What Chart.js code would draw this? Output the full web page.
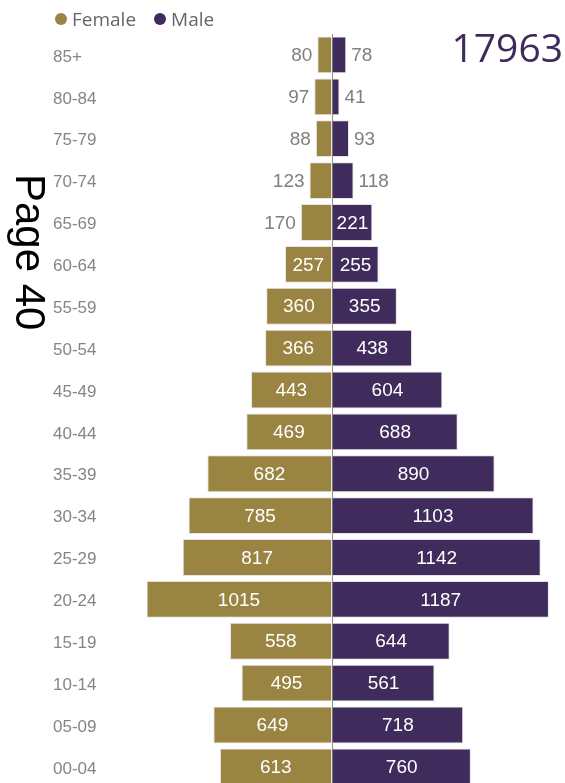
<!DOCTYPE html>
<html>
<head>
<meta charset="utf-8">
<script src="https://cdn.jsdelivr.net/npm/chart.js@4"></script>
<style>
  html, body { margin: 0; padding: 0; background: #fff; overflow: hidden; }
  body { width: 565px; height: 783px; position: relative; }
  #wrap { position: absolute; left: 0; top: 0; width: 565px; height: 798px; }
  .legend { position: absolute; left: 55px; top: 7px; display: flex; align-items: center;
            font: 19px 'Open Sans', sans-serif; line-height: 24px; color: #666; }
  .legend span.item { display: flex; align-items: center; margin-right: 18px; }
  .legend span.dot { width: 12px; height: 12px; border-radius: 50%; margin-right: 5px; display: inline-block; }
  .total { position: absolute; right: 2px; top: 27px; font: 39px 'Open Sans', sans-serif; line-height: 1; color: #3F2B5B; }
  .page { position: absolute; left: 0; top: 0; font: 42px 'Liberation Sans', Arial, sans-serif; line-height: 1;
          color: #000; white-space: nowrap; transform-origin: 0 0; transform: translate(51px, 174px) rotate(90deg); }
</style>
</head>
<body>
<div id="wrap"><canvas id="pyramid"></canvas></div>
<div class="legend" id="legend"></div>
<div class="total" id="total"></div>
<div class="page">Page 40</div>
<script>
// age bands, oldest first (top of the pyramid)
const ageGroups = ['85+', '80-84', '75-79', '70-74', '65-69', '60-64', '55-59', '50-54', '45-49',
                   '40-44', '35-39', '30-34', '25-29', '20-24', '15-19', '10-14', '05-09', '00-04'];
const female = [80, 97, 88, 123, 170, 257, 360, 366, 443, 469, 682, 785, 817, 1015, 558, 495, 649, 613];
const male   = [78, 41, 93, 118, 221, 255, 355, 438, 604, 688, 890, 1103, 1142, 1187, 644, 561, 718, 760];
const seriesNames = ['Female', 'Male'];

const FEMALE_COL = '#9A8441';
const MALE_COL = '#402C5C';
const xLimit = 1264;

// headline total
const total = female.reduce((a, b) => a + b, 0) + male.reduce((a, b) => a + b, 0);
document.getElementById('total').textContent = total;

// value labels: white inside wide bars, grey outside narrow ones
const valueLabels = {
  id: 'valueLabels',
  afterDatasetsDraw(chart) {
    const ctx = chart.ctx;
    const counts = [female, male];
    ctx.save();
    ctx.font = '19px "Liberation Sans", Arial, sans-serif';
    ctx.textBaseline = 'middle';
    chart.data.datasets.forEach((ds, i) => {
      chart.getDatasetMeta(i).data.forEach((bar, j) => {
        const txt = String(counts[i][j]);
        const w = ctx.measureText(txt).width;
        const barW = Math.abs(bar.x - bar.base);
        if (w + 8 < barW) {
          ctx.fillStyle = '#fff';
          ctx.textAlign = 'center';
          ctx.fillText(txt, (bar.x + bar.base) / 2, bar.y + 1);
        } else {
          ctx.fillStyle = '#7f7f7f';
          ctx.textAlign = i === 0 ? 'right' : 'left';
          ctx.fillText(txt, i === 0 ? bar.x - 5 : bar.x + 5, bar.y + 1);
        }
      });
    });
    ctx.restore();
  }
};

const chart = new Chart(document.getElementById('pyramid'), {
  type: 'bar',
  data: {
    labels: ageGroups,
    datasets: [
      { label: seriesNames[0], data: female.map(v => -v), backgroundColor: FEMALE_COL,
        borderColor: '#e4e4e4', borderWidth: 1, barPercentage: 0.88, categoryPercentage: 1 },
      { label: seriesNames[1], data: male, backgroundColor: MALE_COL,
        borderColor: '#e4e4e4', borderWidth: 1, barPercentage: 0.88, categoryPercentage: 1 }
    ]
  },
  options: {
    indexAxis: 'y',
    responsive: true,
    maintainAspectRatio: false,
    animation: false,
    layout: { padding: { top: 34, left: 53, right: 2, bottom: 1 } },
    plugins: { legend: { display: false }, tooltip: { enabled: false } },
    scales: {
      x: {
        stacked: true, min: -xLimit, max: xLimit, z: 1,
        border: { display: false },
        ticks: { display: false },
        grid: { drawTicks: false, lineWidth: 1,
                color: c => (c.tick && c.tick.value === 0) ? '#8c8c8c' : 'rgba(0,0,0,0)' }
      },
      y: {
        stacked: true,
        border: { display: false },
        grid: { display: false },
        ticks: { crossAlign: 'far', padding: 0, labelOffset: 2, color: '#858585',
                 font: { family: "'Liberation Sans', Arial, sans-serif", size: 17 } },
        afterFit: s => { s.width = 48; }
      }
    }
  },
  plugins: [valueLabels]
});

// legend built from the chart's own datasets
document.getElementById('legend').innerHTML = chart.data.datasets.map(ds =>
  `<span class="item"><span class="dot" style="background:${ds.backgroundColor}"></span>${ds.label}</span>`
).join('');
</script>
</body>
</html>
